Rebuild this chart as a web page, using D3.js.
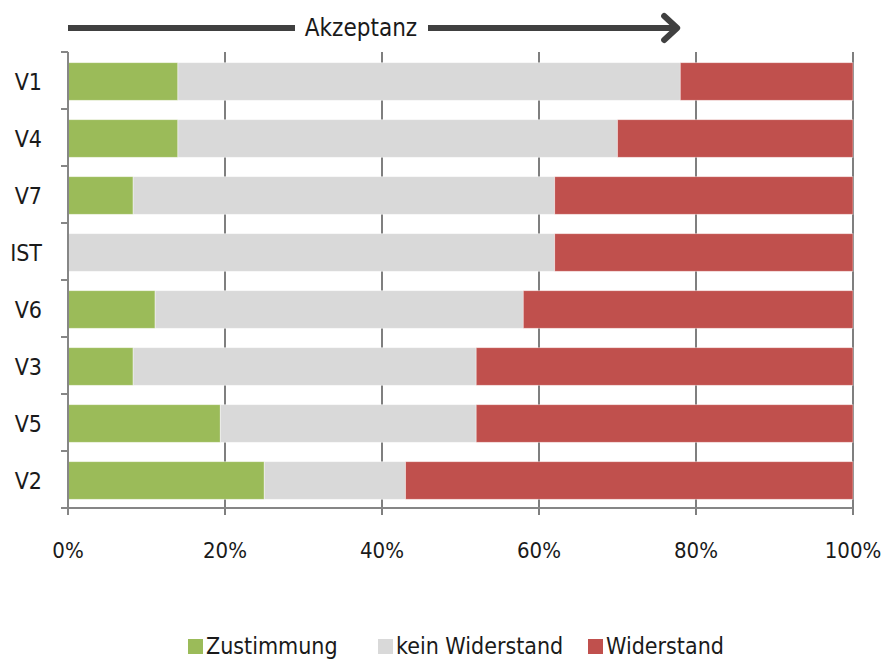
<!DOCTYPE html>
<html>
<head>
<meta charset="utf-8">
<script src="https://cdn.jsdelivr.net/npm/d3@7"></script>
<style>
  body { margin: 0; background: #fff; }
  text { font-family: "DejaVu Sans Condensed", "Liberation Sans Narrow", sans-serif; fill: #1a1a1a; }
</style>
</head>
<body>
<div id="chart"></div>
<script>
// categories top to bottom
var categories = ["V1", "V4", "V7", "IST", "V6", "V3", "V5", "V2"];
// shares in percent
var zustimmung    = [14, 14, 8.3, 0, 11.1, 8.3, 19.4, 25];
var keinWiderstand = [64, 56, 53.7, 62, 46.9, 43.7, 32.6, 18];
var widerstand    = [22, 30, 38, 38, 42, 48, 48, 57];
var seriesNames = ["Zustimmung", "kein Widerstand", "Widerstand"];
var colors = ["#9BBB59", "#D9D9D9", "#C0504D"];
var xTicks = [0, 20, 40, 60, 80, 100];

var width = 882, height = 662;
var margin = {top: 52, left: 68, right: 29, bottom: 154};

var svg = d3.select("#chart").append("svg")
    .attr("width", width)
    .attr("height", height);

var x = d3.scaleLinear().domain([0, 100]).range([margin.left, width - margin.right]);
var y = d3.scaleBand().domain(categories).range([margin.top, height - margin.bottom]).paddingInner(0.34).paddingOuter(0.17);

var rows = categories.map(function(c, i) {
  return {cat: c, Zustimmung: zustimmung[i], "kein Widerstand": keinWiderstand[i], Widerstand: widerstand[i]};
});
var stacked = d3.stack().keys(seriesNames)(rows);

// vertical gridlines
svg.append("g").selectAll("line")
    .data(xTicks.slice(1))
  .enter().append("line")
    .attr("x1", function(d) { return x(d); })
    .attr("x2", function(d) { return x(d); })
    .attr("y1", margin.top)
    .attr("y2", height - margin.bottom + 7)
    .style("stroke", "#7f7f7f")
    .style("stroke-width", 2);

// bars
svg.append("g").selectAll("g")
    .data(stacked)
  .enter().append("g")
    .style("fill", function(d, i) { return colors[i]; })
  .selectAll("rect")
    .data(function(d) { return d; })
  .enter().append("rect")
    .attr("x", function(d) { return x(d[0]); })
    .attr("width", function(d) { return x(d[1]) - x(d[0]); })
    .attr("y", function(d) { return y(d.data.cat) + 1; })
    .attr("height", y.bandwidth())
    .style("stroke", "#fff")
    .style("stroke-opacity", 0.5)
    .style("stroke-width", 0.8);

// y axis
var yAxisG = svg.append("g")
    .attr("transform", "translate(" + margin.left + ",0)");
yAxisG.append("line")
    .attr("x1", 0).attr("x2", 0)
    .attr("y1", margin.top).attr("y2", height - margin.bottom)
    .style("stroke", "#868686").style("stroke-width", 2);
var bounds = categories.map(function(c) { return y(c) - y.step() * y.paddingInner() / 2; });
bounds.push(height - margin.bottom);
yAxisG.selectAll(".tk")
    .data(bounds)
  .enter().append("line")
    .attr("x1", -7).attr("x2", 0)
    .attr("y1", function(d) { return d; })
    .attr("y2", function(d) { return d; })
    .style("stroke", "#868686").style("stroke-width", 2);
yAxisG.selectAll("text")
    .data(categories)
  .enter().append("text")
    .attr("x", -26)
    .attr("y", function(d) { return y(d) + y.bandwidth() / 2 + 1; })
    .attr("dy", "0.35em")
    .style("text-anchor", "end")
    .style("font-size", "23px")
    .text(function(d) { return d; });

// x axis
var xAxisG = svg.append("g");
xAxisG.append("line")
    .attr("x1", margin.left).attr("x2", x(100))
    .attr("y1", height - margin.bottom).attr("y2", height - margin.bottom)
    .style("stroke", "#868686").style("stroke-width", 2);
xAxisG.append("line")
    .attr("x1", margin.left).attr("x2", margin.left)
    .attr("y1", height - margin.bottom).attr("y2", height - margin.bottom + 7)
    .style("stroke", "#868686").style("stroke-width", 2);
xAxisG.selectAll("text")
    .data(xTicks)
  .enter().append("text")
    .attr("x", function(d) { return x(d); })
    .attr("y", height - margin.bottom + 50)
    .style("text-anchor", "middle")
    .style("font-size", "22px")
    .text(function(d) { return d + "%"; });

// Akzeptanz arrow
var ay = 28;
svg.append("line")
    .attr("x1", x(0)).attr("x2", x(77.6))
    .attr("y1", ay).attr("y2", ay)
    .style("stroke", "#404040").style("stroke-width", 6);
svg.append("path")
    .attr("d", "M" + (x(77.6) - 13) + "," + (ay - 12) + " L" + x(77.6) + "," + ay + " L" + (x(77.6) - 13) + "," + (ay + 12))
    .style("fill", "none")
    .style("stroke", "#404040").style("stroke-width", 6)
    .style("stroke-linecap", "round").style("stroke-linejoin", "round");
svg.append("rect")
    .attr("x", 295).attr("y", ay - 14)
    .attr("width", 133).attr("height", 28)
    .style("fill", "#fff");
svg.append("text")
    .attr("x", 361).attr("y", ay)
    .attr("dy", "0.35em")
    .style("text-anchor", "middle")
    .style("font-size", "24px")
    .text("Akzeptanz");

// legend
var legendX = [188, 378, 588];
var legend = svg.append("g").selectAll("g")
    .data(seriesNames)
  .enter().append("g")
    .attr("transform", function(d, i) { return "translate(" + legendX[i] + ",646)"; });
legend.append("rect")
    .attr("x", 0).attr("y", -7)
    .attr("width", 15).attr("height", 15)
    .style("fill", function(d, i) { return colors[i]; });
legend.append("text")
    .attr("x", 18).attr("y", 0)
    .attr("dy", "0.35em")
    .style("font-size", "23px")
    .text(function(d) { return d; });
</script>
</body>
</html>
